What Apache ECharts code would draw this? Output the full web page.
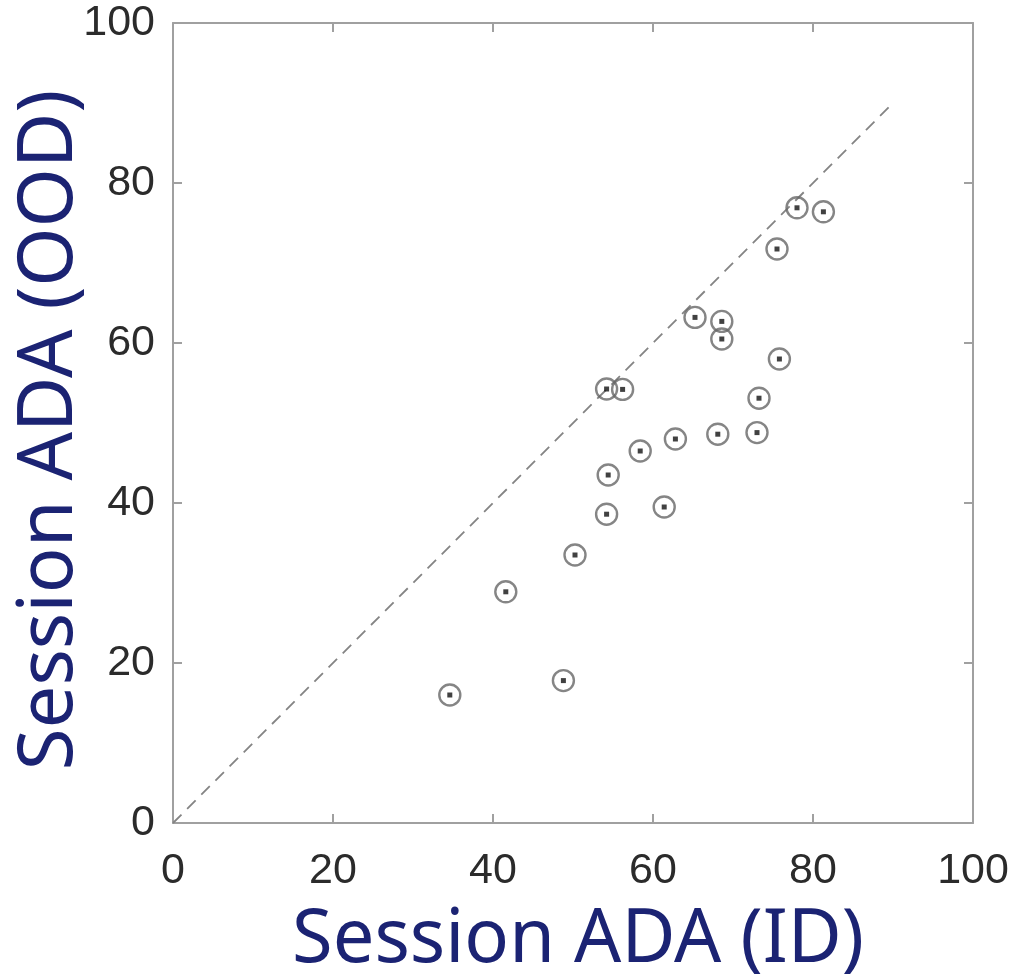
<!DOCTYPE html>
<html>
<head>
<meta charset="utf-8">
<title>Session ADA: ID vs OOD</title>
<script src="https://cdn.jsdelivr.net/npm/echarts@6/dist/echarts.min.js"></script>
<style>
  html, body { margin: 0; padding: 0; background: #ffffff; }
  #chart { width: 1013px; height: 977px; }
</style>
</head>
<body>
<div id="chart"></div>
<script>
// Per-session ADA scores: in-distribution (x) vs out-of-distribution (y)
const idScores  = [34.6, 41.6, 48.8, 50.25, 54.2, 54.4, 54.2, 56.2, 58.4, 61.4, 62.8,
                   65.25, 68.1, 68.6, 68.6, 73.0, 73.25, 75.8, 75.5, 78.0, 81.3];
const oodScores = [16.0, 28.9, 17.8, 33.5, 38.6, 43.5, 54.25, 54.2, 46.5, 39.5, 48.0,
                   63.2, 48.6, 62.7, 60.5, 48.8, 53.1, 58.0, 71.75, 76.9, 76.4];

// Identity reference line (ID == OOD)
const diagonalEnds = [0, 90];

// Axis range and ticks
const axisMin = 0;
const axisMax = 100;
const tickStep = 20;

const xTitle = 'Session ADA (ID)';
const yTitle = 'Session ADA (OOD)';

const points = idScores.map((x, i) => [x, oodScores[i]]);
const diagonal = diagonalEnds.map(v => [v, v]);

const frameColor = '#a0a0a0';
const tickFont = { fontFamily: 'Liberation Sans, Arial, sans-serif', fontSize: 43, color: '#2b2b2b' };
const titleFamily = 'Noto Sans, Open Sans, sans-serif';
const titleColor = '#1b2373';

function frameAxis(extra) {
  return Object.assign({
    type: 'value',
    min: axisMin,
    max: axisMax,
    interval: tickStep,
    splitLine: { show: false },
    axisLine: { show: true, onZero: false, lineStyle: { color: frameColor, width: 2 } },
    axisTick: { show: true, inside: true, length: 9, lineStyle: { color: frameColor, width: 2 } }
  }, extra);
}

const chart = echarts.init(document.getElementById('chart'), null, { renderer: 'canvas' });

chart.setOption({
  backgroundColor: '#ffffff',
  animation: false,
  grid: { left: 173, right: 40, top: 23, bottom: 154, containLabel: false, outerBoundsMode: 'none' },
  xAxis: [
    frameAxis({
      position: 'bottom',
      name: xTitle,
      nameLocation: 'middle',
      nameMoveOverlap: false,
      nameGap: 81,
      nameTextStyle: { fontFamily: titleFamily, fontSize: 74, color: titleColor, padding: [0, 0, 0, 10] },
      axisLabel: Object.assign({ margin: 27 }, tickFont)
    }),
    frameAxis({ position: 'top', axisLabel: { show: false } })
  ],
  yAxis: [
    frameAxis({
      position: 'left',
      name: yTitle,
      nameLocation: 'middle',
      nameRotate: 90,
      nameMoveOverlap: false,
      nameGap: 85,
      nameTextStyle: { fontFamily: titleFamily, fontSize: 76, color: titleColor, padding: [0, 14, 0, 0] },
      axisLabel: Object.assign({ margin: 18 }, tickFont)
    }),
    frameAxis({ position: 'right', axisLabel: { show: false } })
  ],
  series: [
    {
      type: 'line',
      data: diagonal,
      symbol: 'none',
      silent: true,
      lineStyle: { color: '#848484', width: 1.8, type: [12, 8] },
      z: 1
    },
    {
      type: 'scatter',
      data: points,
      symbol: 'circle',
      symbolSize: 21,
      itemStyle: { color: 'rgba(255,255,255,0)', borderColor: '#666666', borderWidth: 2.4 },
      z: 2
    },
    {
      type: 'scatter',
      data: points,
      symbol: 'rect',
      symbolSize: 5,
      itemStyle: { color: '#111111' },
      z: 3
    }
  ]
});
</script>
</body>
</html>
